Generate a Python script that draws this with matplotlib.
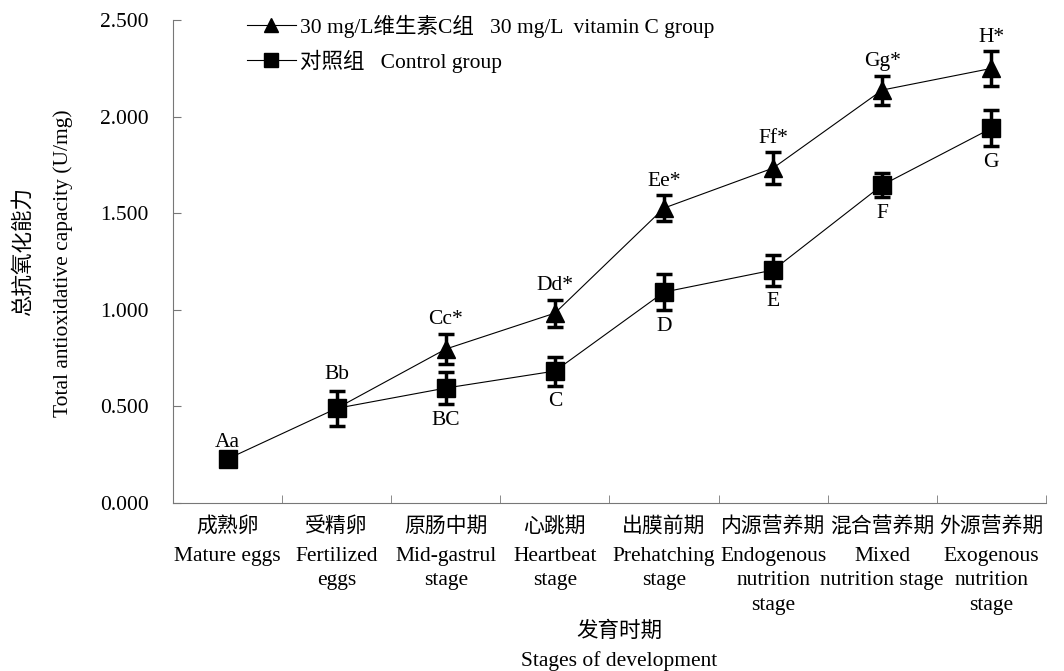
import matplotlib
matplotlib.use("Agg")
import matplotlib.pyplot as plt
import matplotlib.transforms as mtransforms
from matplotlib.lines import Line2D
import numpy as np

plt.rcParams['font.family'] = ['Liberation Serif', 'Noto Sans CJK SC']

# data
stages_cn = ['成熟卵', '受精卵', '原肠中期', '心跳期', '出膜前期', '内源营养期', '混合营养期', '外源营养期']
stages_en = ['Mature eggs', 'Fertilized\neggs', 'Mid-gastrul\nstage', 'Heartbeat\nstage',
             'Prehatching\nstage', 'Endogenous\nnutrition\nstage', 'Mixed\nnutrition stage',
             'Exogenous\nnutrition\nstage']

control = [0.228, 0.490, 0.595, 0.683, 1.092, 1.206, 1.646, 1.940]
control_err = [0.0, 0.090, 0.083, 0.075, 0.093, 0.080, 0.062, 0.093]
control_lbl = ['Aa', 'Bb', 'BC', 'C', 'D', 'E', 'F', 'G']

vitc = [0.490, 0.797, 0.983, 1.527, 1.734, 2.138, 2.250]   # from 受精卵 on
vitc_err = [0.0, 0.080, 0.070, 0.067, 0.083, 0.075, 0.090]
vitc_lbl = ['', 'Cc*', 'Dd*', 'Ee*', 'Ff*', 'Gg*', 'H*']

FS = 15.5
FS_CN = 15
x = np.arange(len(stages_cn))
xv = x[1:]

fig = plt.figure(figsize=(10.64, 6.71), dpi=100)
ax = fig.add_axes([0.1626, 0.2504, 0.8204, 0.7196])

ax.errorbar(xv, vitc, yerr=vitc_err, color='black', lw=0.8, marker='^', ms=13,
            markevery=list(range(1, len(vitc))), elinewidth=2.5, capsize=6, capthick=2.5,
            ecolor='black')
ax.errorbar(x, control, yerr=control_err, color='black', lw=0.8, marker='s', ms=13,
            elinewidth=2.5, capsize=6, capthick=2.5, ecolor='black')

for i, (v, e, t) in enumerate(zip(control, control_err, control_lbl)):
    if i < 2:
        ax.annotate(t, (x[i], v + e), xytext=(0, 5), textcoords='offset points',
                    ha='center', va='bottom', fontsize=FS)
    else:
        ax.annotate(t, (x[i], v - e), xytext=(0, -5), textcoords='offset points',
                    ha='center', va='top', fontsize=FS)
for xi, v, e, t in zip(xv, vitc, vitc_err, vitc_lbl):
    if t:
        ax.annotate(t, (xi, v + e), xytext=(0, 3), textcoords='offset points',
                    ha='center', va='bottom', fontsize=FS)

ax.set_xlim(-0.5, len(x) - 0.5)
ax.set_ylim(0, 2.5)
yt = np.arange(0, 2.51, 0.5)
ax.set_yticks(yt)
ax.set_yticklabels(['%.3f' % v for v in yt], fontsize=FS)
ax.set_xticks(x)
ax.set_xticklabels([''] * len(x))
ax.set_xticks(np.arange(-0.5, len(x) + 0.5, 1), minor=True)
ax.tick_params(axis='x', which='major', length=0)
ax.tick_params(axis='x', which='minor', direction='in', length=6, color='#777777')
ax.tick_params(axis='y', direction='in', length=6, color='#777777', pad=17.5)

ax.spines['top'].set_visible(False)
ax.spines['right'].set_visible(False)
ax.spines['left'].set_color('#777777')
ax.spines['bottom'].set_color('#777777')

# category labels: chinese line + english lines
trans = mtransforms.blended_transform_factory(ax.transData, fig.transFigure)
for xi, cn, en in zip(x, stages_cn, stages_en):
    ax.text(xi, 1 - 527 / 671, cn, transform=trans, ha='center', va='center', fontsize=FS_CN)
    ax.text(xi, 1 - 547 / 671, en, transform=trans, ha='center', va='top', fontsize=FS,
            linespacing=1.38)

fig.text(0.582, 1 - 632 / 671, '发育时期', ha='center', va='center', fontsize=FS)
fig.text(0.582, 1 - 661 / 671, 'Stages of development', ha='center', va='center', fontsize=FS)
fig.text(0.022, 1 - 252 / 671, '总抗氧化能力', rotation=90, ha='center', va='center', fontsize=FS)
fig.text(0.059, 1 - 263 / 671, 'Total antioxidative capacity (U/mg)', rotation=90,
         ha='center', va='center', fontsize=FS)

handles = [Line2D([], [], color='black', lw=0.8, marker='^', ms=10),
           Line2D([], [], color='black', lw=0.8, marker='s', ms=10)]
labels = ['30 mg/L维生素C组   30 mg/L  vitamin C group', '对照组   Control group']
ax.legend(handles, labels, loc='upper left', bbox_to_anchor=(0.062, 1.052), frameon=False,
          fontsize=FS, handlelength=2.3, handletextpad=0.2, labelspacing=0.55)

fig.savefig('out.png', dpi=100)
